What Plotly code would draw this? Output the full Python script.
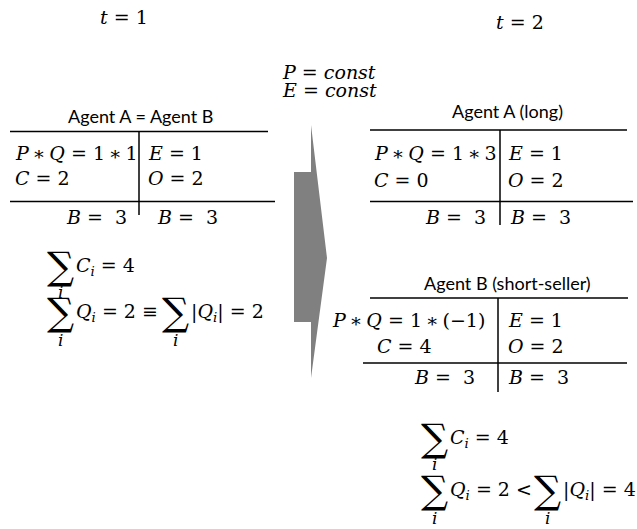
import plotly.graph_objects as go

# balance sheet values
titles = ["Agent A = Agent B", "Agent A (long)", "Agent B (short-seller)"]
prices = [1, 1, 1]
quantities = ["1", "3", "(−1)"]
cash = [2, 0, 4]
equity = [1, 1, 1]
other = [2, 2, 2]
balance = [3, 3, 3]
times = [1, 2]
sum_cash = [4, 4]
sum_q = [2, 2]
sum_abs_q = [2, 4]
sum_rel = ["≡", "<"]

MATH = "DejaVu Serif"
SANS = "Lato"
TS = "\u2009"  # thin space around binary operators

# layout of each balance sheet (pixel coords, y downwards)
geo = [
    dict(title=(140, 116), top=(10, 268, 131.5), bot=(10, 275, 201.5), vx=139, vy=(131.5, 215),
         a1=(13, 153, "left"), a2=(13, 178), l=146, r1=153, r2=178, bl=129, br=155, by=217),
    dict(title=(507, 111), top=(370, 627, 130), bot=(370, 633, 201.5), vx=500, vy=(130, 225),
         a1=(372, 153, "left"), a2=(372, 180), l=506, r1=153, r2=180, bl=488, br=508, by=217),
    dict(title=(507, 283), top=(370, 628, 298), bot=(363, 627, 363), vx=498, vy=(298, 392),
         a1=(487, 320, "right"), a2=(375, 346), l=506, r1=320, r2=346, bl=477, br=506, by=377),
]

fig = go.Figure()
shapes = []
ann = []


def txt(x, y, s, size=19, family=MATH, anchor="left"):
    ann.append(dict(x=x, y=y, text=s, showarrow=False, xanchor=anchor, yanchor="middle",
                    font=dict(family=family, size=size, color="black")))


def it(s):
    return "<i>" + s + "</i>"


for k, g in enumerate(geo):
    x0, x1, y = g["top"]
    shapes.append(dict(type="line", x0=x0, x1=x1, y0=y, y1=y, line=dict(color="black", width=1.5)))
    x0, x1, y = g["bot"]
    shapes.append(dict(type="line", x0=x0, x1=x1, y0=y, y1=y, line=dict(color="black", width=1.5)))
    shapes.append(dict(type="line", x0=g["vx"], x1=g["vx"], y0=g["vy"][0], y1=g["vy"][1],
                       line=dict(color="black", width=1.5)))
    txt(g["title"][0], g["title"][1], titles[k], size=18, family=SANS, anchor="center")
    ax, ay, aa = g["a1"]
    txt(ax, ay, f"{it('P')}{TS}∗{TS}{it('Q')} = {prices[k]}{TS}∗{TS}{quantities[k]}", anchor=aa)
    txt(g["a2"][0], g["a2"][1], f"{it('C')} = {cash[k]}")
    txt(g["l"], g["r1"], f"{it('E')} = {equity[k]}")
    txt(g["l"], g["r2"], f"{it('O')} = {other[k]}")
    txt(g["bl"], g["by"], f"{it('B')} =  {balance[k]}", anchor="right")
    txt(g["br"], g["by"], f"{it('B')} =  {balance[k]}")

# time labels and constants
txt(124, 17, f"{it('t')} = {times[0]}", anchor="center")
txt(520, 22, f"{it('t')} = {times[1]}", anchor="center")
txt(329, 72, f"{it('P')} = {it('const')}", anchor="center")
txt(329, 90, f"{it('E')} = {it('const')}", anchor="center")

# sums
sums = [dict(sx=60, y1=266, y2=312, x2=175, t1=74, t3=189),
        dict(sx=434, y1=438, y2=490, x2=547, t1=448, t3=561)]
for k, s in enumerate(sums):
    txt(s["sx"], s["y1"], "∑", size=38, anchor="center")
    txt(s["sx"], s["y1"] + 26, it("i"), size=17, anchor="center")
    txt(s["t1"], s["y1"], f"{it('C')}<sub>{it('i')}</sub> = {sum_cash[k]}")
    txt(s["sx"], s["y2"], "∑", size=38, anchor="center")
    txt(s["sx"], s["y2"] + 28, it("i"), size=17, anchor="center")
    txt(s["t1"], s["y2"], f"{it('Q')}<sub>{it('i')}</sub> = {sum_q[k]} {sum_rel[k]}")
    txt(s["x2"], s["y2"], "∑", size=38, anchor="center")
    txt(s["x2"], s["y2"] + 28, it("i"), size=17, anchor="center")
    txt(s["t3"], s["y2"], f"|{it('Q')}<sub>{it('i')}</sub>| = {sum_abs_q[k]}")

# big grey arrow between the two dates
shapes.append(dict(type="path", path="M294,172 L311,172 L311,125 L327,258 L311,378 L311,322 L294,322 Z",
                   fillcolor="#808080", line=dict(width=0)))

fig.update_layout(
    width=637, height=529, margin=dict(l=0, r=0, t=0, b=0),
    paper_bgcolor="white", plot_bgcolor="white",
    xaxis=dict(range=[0, 637], visible=False, fixedrange=True),
    yaxis=dict(range=[529, 0], visible=False, fixedrange=True),
    shapes=shapes, annotations=ann, showlegend=False,
)
fig.write_html("out.html", config={"displayModeBar": False},
               post_script="document.body.style.margin='0';")
